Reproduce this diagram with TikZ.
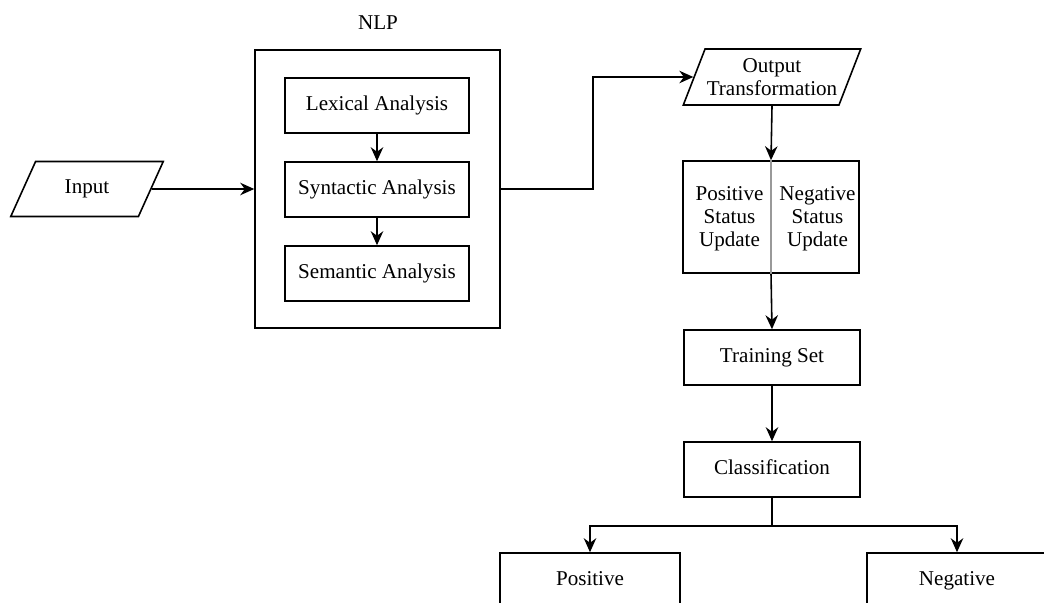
\documentclass[tikz,border=0pt]{standalone}
\usepackage{fontspec}
\setmainfont{Liberation Serif}
\usetikzlibrary{arrows.meta,shapes.geometric,positioning,calc}

\begin{document}
\begin{tikzpicture}[
    x=0.02cm,
    y=-0.02cm,
    >={Stealth[length=2.8mm,width=2.5mm]},
    every node/.style={
        font=\fontsize{12}{13.2}\selectfont
    },
    box/.style={
        rectangle,
        draw,
        line width=0.9pt,
        minimum width=3.52cm,
        minimum height=1.1cm,
        text height=1.6ex,
        text depth=.4ex,
        align=center
    },
    io/.style={
        trapezium,
        draw,
        line width=0.9pt,
        trapezium stretches=true,
        trapezium left angle=62,
        trapezium right angle=118,
        minimum height=1.1cm,
        inner sep=1pt,
        align=center
    },
    link/.style={->, line width=0.9pt}
]

\clip (0,0) rectangle (1044,602);

% ---------------- Input and NLP block ----------------
\node[io, minimum width=3.06cm] (inp) at (87,189) {Input};
\node[box, minimum width=4.9cm, minimum height=5.56cm] (nlp) at (377.5,189) {};
\node (nlplbl) at (378,23) {NLP};

\node[box, minimum width=3.68cm] (lex) at (377,105.5) {Lexical Analysis};
\node[box, minimum width=3.68cm] (syn) at (377,189.5) {Syntactic Analysis};
\node[box, minimum width=3.68cm] (sem) at (377,273.5) {Semantic Analysis};

% ---------------- Right column ----------------
\node[io, minimum width=3.52cm, minimum height=1.12cm] (out) at (772,77)
    {Output\\Transformation};
\node[box, minimum height=2.24cm] (stat) at (771,217) {};
\node (posup) at (729.5,219) [align=center] {Positive\\Status\\Update};
\node (negup) at (817.5,219) [align=center] {Negative\\Status\\Update};
\node[box] (train) at (772,357.5) {Training Set};
\node[box] (cls) at (772,469.5) {Classification};

% ---------------- Results ----------------
\node[box, minimum width=3.6cm] (posv) at (590,580.5) {Positive};
\node[box, minimum width=3.6cm] (negv) at (957,580.5) {Negative};

% ---------------- Connectors ----------------
\draw[link] (inp) -- (nlp.west);
\draw[link] (lex) -- (syn);
\draw[link] (syn) -- (sem);
\draw[link] (nlp.east) -- ++(92,0) |- (out.west);
\draw[link] (out.south) -- (stat.north);
\draw[gray!80, line width=1.5pt] (stat.north) -- (stat.south);
\draw[link] (stat.south) -- (train.north);
\draw[link] (train) -- (cls);
\draw[link] (cls.south) -- ++(0,28) -| (posv.north);
\draw[link] (cls.south) -- ++(0,28) -| (negv.north);

\end{tikzpicture}
\end{document}
